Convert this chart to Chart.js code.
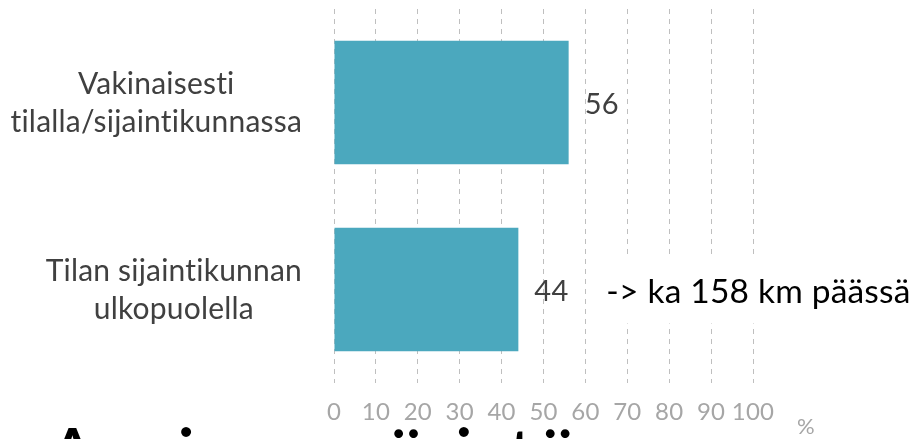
<!DOCTYPE html>
<html>
<head>
<meta charset="utf-8">
<script src="https://cdn.jsdelivr.net/npm/chart.js@4/dist/chart.umd.min.js"></script>
<style>
  html, body { margin: 0; padding: 0; background: #fff; }
  #wrap { width: 923px; height: 439px; }
</style>
</head>
<body>
<div id="wrap"><canvas id="placeChart"></canvas></div>
<script>
// data
const categories = [
  ['Vakinaisesti', 'tilalla/sijaintikunnassa'],
  ['Tilan sijaintikunnan', 'ulkopuolella']
];
const shares = [56, 44];
const xMin = 0;
const xMax = 100;
const xStep = 10;
const unitLabel = '%';
const note = '-> ka 158 km päässä';
const noteIndex = 1;  // the note belongs to the second bar
const heading = 'Asuinympäristö';

const FONT = 'Lato';

// a tiny letter spacing keeps Lato from joining "ti" into a ligature
const noLigatures = {
  id: 'noLigatures',
  beforeDraw(chart) {
    chart.ctx.letterSpacing = '0.2px';
  }
};

// category labels: each block right-aligned next to the axis, its lines centred inside the block
// (Excel style, which crossAlign can't do per label)
const categoryLabels = {
  id: 'categoryLabels',
  afterDraw(chart) {
    const { ctx, scales: { y } } = chart;
    ctx.save();
    ctx.font = '30px ' + FONT;
    ctx.fillStyle = '#404040';
    ctx.textAlign = 'center';
    ctx.textBaseline = 'alphabetic';
    categories.forEach((lines, i) => {
      const cy = y.getPixelForValue(i);
      const blockW = Math.max(...lines.map(l => ctx.measureText(l).width));
      const cx = y.right - 32 - blockW / 2;
      lines.forEach((line, k) => ctx.fillText(line, cx, cy - 9 + k * 38));
    });
    ctx.restore();
  }
};

// value labels, the note with its white box, the % sign and the cut-off heading
const extras = {
  id: 'extras',
  afterDatasetsDraw(chart) {
    const { ctx, scales: { x } } = chart;
    const bars = chart.getDatasetMeta(0).data;
    ctx.save();
    ctx.textBaseline = 'middle';
    ctx.textAlign = 'left';

    ctx.font = '29px ' + FONT;
    ctx.fillStyle = '#404040';
    bars.forEach((bar, i) => ctx.fillText(shares[i], bar.x + 16, bar.y + 2));

    const b = bars[noteIndex];
    ctx.font = '33.5px ' + FONT;
    const nx = b.x + 88;
    const w = ctx.measureText(note).width;
    ctx.fillStyle = '#ffffff';
    ctx.fillRect(nx - 6, b.y - 33, w + 12, 67);
    ctx.fillStyle = '#000000';
    ctx.fillText(note, nx, b.y + 3);

    ctx.font = '22px ' + FONT;
    ctx.fillStyle = '#a6a6a6';
    ctx.textAlign = 'center';
    ctx.fillText(unitLabel, x.getPixelForValue(xMax) + 53, x.top + 44);

    ctx.font = '78px ' + FONT;
    ctx.fillStyle = '#000000';
    ctx.textAlign = 'left';
    ctx.textBaseline = 'alphabetic';
    ctx.fillText(heading, 46, 484);
    ctx.restore();
  }
};

const config = {
  type: 'bar',
  data: {
    labels: categories,
    datasets: [{
      data: shares,
      backgroundColor: '#4BA8BE',
      borderWidth: 0,
      barPercentage: 0.66,
      categoryPercentage: 1.0
    }]
  },
  options: {
    indexAxis: 'y',
    responsive: true,
    maintainAspectRatio: false,
    animation: false,
    layout: {
      padding: { top: 9, right: 170, bottom: 12, left: 0 }
    },
    plugins: {
      legend: { display: false },
      tooltip: { enabled: false }
    },
    scales: {
      x: {
        type: 'linear',
        min: xMin,
        max: xMax,
        afterFit: scale => { scale.height = 44; },
        grid: {
          color: '#bfbfbf',
          lineWidth: 1,
          drawTicks: false
        },
        border: { display: false, dash: [5, 5] },
        ticks: {
          stepSize: xStep,
          autoSkip: false,
          padding: 15,
          maxRotation: 0,
          color: '#a6a6a6',
          font: { family: FONT, size: 24 }
        }
      },
      y: {
        grid: { display: false, drawTicks: false },
        border: { display: false },
        afterFit: scale => {
          scale.width = 334;
          scale.paddingTop = 0;
          scale.paddingBottom = 0;
        },
        ticks: { display: false }
      }
    }
  },
  plugins: [noLigatures, extras, categoryLabels]
};

Chart.defaults.font.family = FONT;
const placeChart = new Chart(document.getElementById('placeChart'), config);
</script>
</body>
</html>
